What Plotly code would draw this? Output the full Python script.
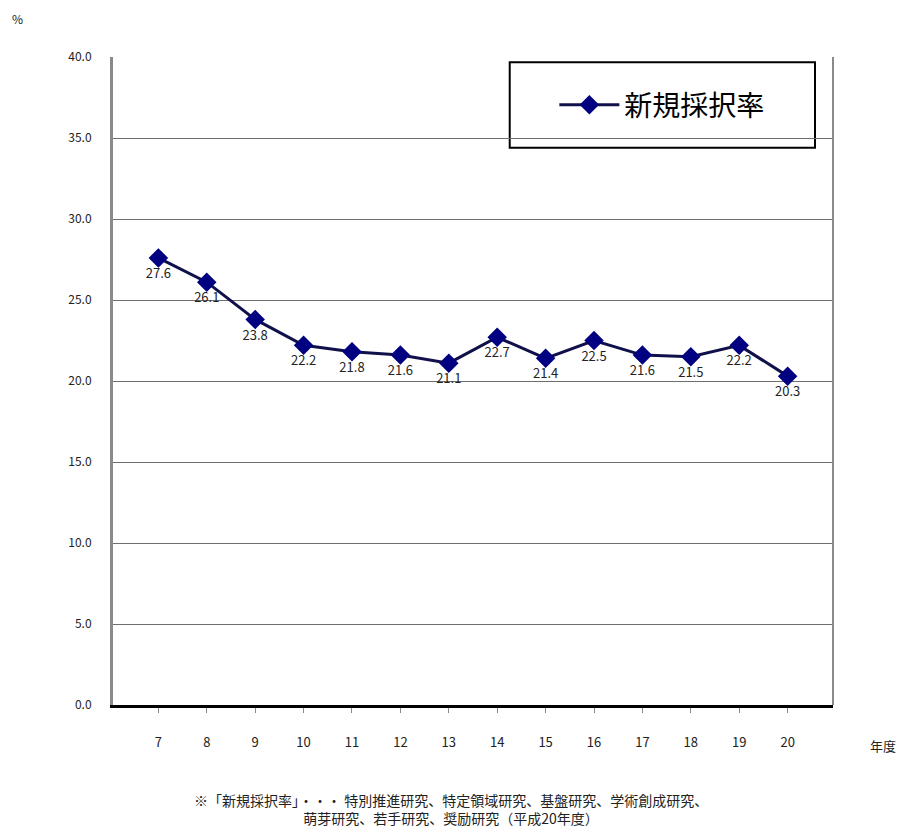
import plotly.graph_objects as go

# 平成 年度
years = ["7", "8", "9", "10", "11", "12", "13", "14", "15", "16", "17", "18", "19", "20"]
rates = [27.6, 26.1, 23.8, 22.2, 21.8, 21.6, 21.1, 22.7, 21.4, 22.5, 21.6, 21.5, 22.2, 20.3]
y_ticks = [0, 5, 10, 15, 20, 25, 30, 35, 40]

jp = "Noto Sans CJK JP"

fig = go.Figure()
fig.add_trace(go.Scatter(
    x=years, y=rates,
    mode="lines+markers+text",
    name="新規採択率",
    line=dict(color="#10104a", width=3),
    marker=dict(symbol="diamond", size=15, color="#000080"),
    text=[f"{v:.1f}" for v in rates],
    textposition="bottom center",
    textfont=dict(family=jp, size=13, color="#222222"),
))

# page body adds an 8px offset, so the figure is sized a bit smaller
fig.update_layout(
    width=908, height=825,
    margin=dict(l=105, r=83, t=49, b=128),
    paper_bgcolor="white",
    plot_bgcolor="white",
    font=dict(family=jp, size=12, color="#222222"),
    showlegend=True,
    legend=dict(
        x=0.763, y=0.926, xanchor="center", yanchor="middle",
        borderwidth=0,
        bgcolor="rgba(0,0,0,0)",
        font=dict(family=jp, size=28, color="black"),
        itemwidth=60,
    ),
    xaxis=dict(
        type="category",
        showline=True, linecolor="black", linewidth=3,
        ticks="outside", ticklen=5, tickcolor="#888888",
        ticklabelstandoff=18,
        tickfont=dict(size=13),
        showgrid=False,
    ),
    yaxis=dict(
        range=[0, 40],
        tickvals=y_ticks,
        tickformat=".1f",
        showline=True, linecolor="#8a8a8a", linewidth=3,
        showgrid=True, gridcolor="#6e6e6e", gridwidth=1,
        tickfont=dict(size=12),
        ticklabelstandoff=16,
        ticks="", zeroline=False,
    ),
    annotations=[
        dict(text="%", x=-0.132, y=1.06, xref="paper", yref="paper",
             xanchor="center", yanchor="middle", showarrow=False,
             font=dict(size=12)),
        dict(text="年度", x=1.069, y=-0.062, xref="paper", yref="paper",
             xanchor="center", yanchor="middle", showarrow=False,
             font=dict(size=13)),
        dict(text="※「新規採択率」・・・ 特別推進研究、特定領域研究、基盤研究、学術創成研究、<br>"
                  "萌芽研究、若手研究、奨励研究（平成20年度）",
             x=0.47, y=-0.16, xref="paper", yref="paper",
             xanchor="center", yanchor="middle", showarrow=False, align="center",
             font=dict(size=14)),
    ],
    shapes=[
        # right border of the plot area
        dict(type="line", xref="paper", yref="paper", x0=1, x1=1, y0=0, y1=1,
             line=dict(color="#8a8a8a", width=2)),
        # legend frame
        dict(type="rect", xref="paper", yref="paper", x0=0.551, x1=0.975, y0=0.86, y1=0.992,
             line=dict(color="black", width=2), fillcolor="white", layer="below"),
    ],
)

fig.write_html("out.html")
